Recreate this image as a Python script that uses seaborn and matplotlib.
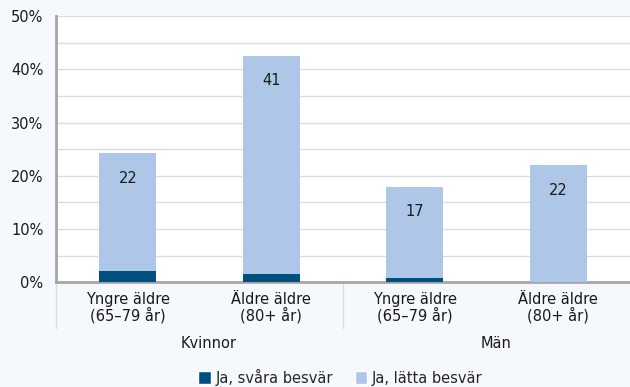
import matplotlib
matplotlib.use("Agg")
import matplotlib.pyplot as plt
import matplotlib.transforms as mtransforms
from matplotlib.patches import Patch
import seaborn as sns
import pandas as pd

# Andel med besvär per åldersgrupp och kön (procent)
groups = ["Kvinnor", "Kvinnor", "Män", "Män"]
age_labels = ["Yngre äldre\n(65–79 år)", "Äldre äldre\n(80+ år)",
              "Yngre äldre\n(65–79 år)", "Äldre äldre\n(80+ år)"]
svara = [2.2, 1.5, 0.9, 0.0]
latta = [22, 41, 17, 22]
series_names = ["Ja, svåra besvär", "Ja, lätta besvär"]
y_ticks = [0, 10, 20, 30, 40, 50]

dark = "#00507F"
light = "#AEC7E8"
bg = "#F5F9FD"
txt = "#1a1a1a"
fs = 10.5

sns.set_theme(style="white")
plt.rcParams["font.family"] = ["DejaVu Sans"]

df = pd.DataFrame({
    "kat": [f"{g}|{a}" for g, a in zip(groups, age_labels)],
    "svara": svara,
    "latta": latta,
})
df["total"] = df["svara"] + df["latta"]

fig = plt.figure(figsize=(6.3, 3.87), dpi=100, facecolor=bg)
ax = fig.add_axes([56 / 630, 1 - 282.3 / 387, 1 - 56 / 630, (282.3 - 16) / 387])
ax.set_facecolor("white")

# Staplade staplar: totalen i ljus färg, svåra besvär ovanpå i mörk
sns.barplot(data=df, x="kat", y="total", color=light, width=0.4,
            saturation=1, linewidth=0, ax=ax, zorder=3)
sns.barplot(data=df, x="kat", y="svara", color=dark, width=0.4,
            saturation=1, linewidth=0, ax=ax, zorder=4)

for i, (t, v) in enumerate(zip(df["total"], latta)):
    ax.annotate(f"{v}", (i, t), xytext=(0, -25 * 72 / 100),
                textcoords="offset points", ha="center", va="center",
                fontsize=fs, color=txt, zorder=5)

ax.set_ylim(0, 50)
ax.set_xlim(-0.5, 3.5)
ax.set_yticks(y_ticks)
ax.set_yticklabels([f"{t}%" for t in y_ticks], fontsize=fs, color=txt)
ax.set_yticks(range(5, 50, 10), minor=True)
ax.grid(axis="y", which="both", color="#DDDDDD", linewidth=1.0, zorder=0)
ax.set_axisbelow(True)

ax.set_xticks(range(len(age_labels)))
ax.set_xticklabels(age_labels, fontsize=fs, color=txt, linespacing=1.0)
ax.tick_params(axis="y", length=0, pad=9)
ax.tick_params(axis="x", length=0, pad=7)
ax.set_xlabel("")
ax.set_ylabel("")

for side in ["top", "right"]:
    ax.spines[side].set_visible(False)
for side in ["left", "bottom"]:
    ax.spines[side].set_color("#A6A6A6")
    ax.spines[side].set_linewidth(2)

# Gruppavgränsare och gruppnamn under kategorierna
trans = mtransforms.blended_transform_factory(ax.transData, ax.transAxes)
for xpos in [-0.5, 1.5]:
    ax.plot([xpos, xpos], [0, -0.172], transform=trans, color="#DDDDDD",
            linewidth=1.0, clip_on=False)
for label, center in [("Kvinnor", 0.5), ("Män", 2.5)]:
    ax.text(center + 0.065, -0.228, label, transform=trans, ha="center",
            va="center", fontsize=fs, color=txt)

handles = [Patch(facecolor=dark, label=series_names[0]),
           Patch(facecolor=light, label=series_names[1])]
fig.legend(handles=handles, loc="center", bbox_to_anchor=(0.54, 1 - 377 / 387),
           ncol=2, frameon=False, fontsize=fs, handlelength=0.85,
           handleheight=1.0, handletextpad=0.3, columnspacing=1.5)

fig.savefig("out.png", dpi=100, facecolor=bg)
